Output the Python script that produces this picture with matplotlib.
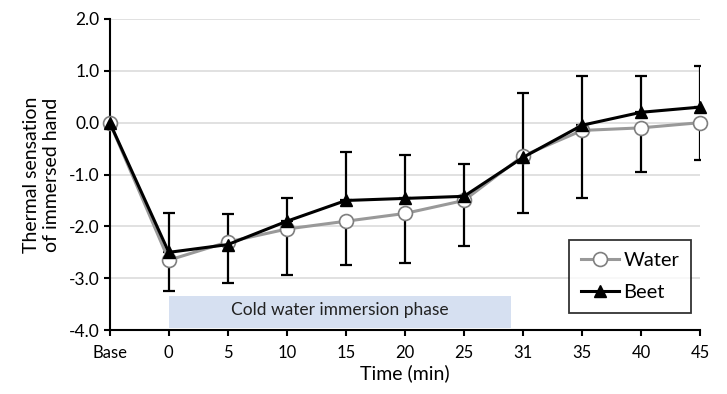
import matplotlib
matplotlib.use("Agg")

import matplotlib.pyplot as plt
import numpy as np

# ── Data ─────────────────────────────────────────────────────
time_labels = ["Base", "0", "5", "10", "15", "20", "25", "31", "35", "40", "45"]
water_mean = [0.0, -2.65, -2.30, -2.05, -1.90, -1.75, -1.50, -0.64, -0.15, -0.10, 0.0]
water_sd = [0.0, 0.59, 0.80, 0.89, 0.85, 0.96, 0.88, 1.10, 1.30, 0.86, 0.72]
beet_mean = [0.0, -2.50, -2.35, -1.90, -1.50, -1.46, -1.42, -0.67, -0.05, 0.20, 0.30]
beet_sd = [0.0, 0.76, 0.59, 0.45, 0.94, 0.83, 0.63, 1.24, 0.95, 0.70, 0.80]

phase_start = 1.0   # category index where immersion starts ("0")
phase_end = 6.8     # just before "31"
phase_label = "Cold water immersion phase"

plt.rcParams.update({
    "font.family": ["Lato", "DejaVu Sans"],
    "axes.spines.top": False,
    "axes.spines.right": False,
})

x = np.arange(len(time_labels))

fig = plt.figure(figsize=(7.27, 3.94), dpi=100)
ax = fig.add_axes([0.151, 0.162, 0.812, 0.790])

# horizontal gridlines
ax.set_axisbelow(True)
ax.yaxis.grid(True, color="#dcdcdc", linewidth=1.2)

# immersion phase band
ax.fill_between([phase_start, phase_end], -3.95, -3.35,
                color="#d6e0f1", linewidth=0, zorder=1)
ax.text((phase_start + phase_end) / 2, -3.62, phase_label,
        ha="center", va="center", fontsize=12.5, color="#222222", zorder=2)

# error bars: Water downward, Beet upward
ax.errorbar(x[1:], water_mean[1:], yerr=[water_sd[1:], [0] * (len(x) - 1)],
            fmt="none", ecolor="black", elinewidth=1.6, capsize=4,
            capthick=1.6, zorder=3)
ax.errorbar(x[1:], beet_mean[1:], yerr=[[0] * (len(x) - 1), beet_sd[1:]],
            fmt="none", ecolor="black", elinewidth=1.6, capsize=4,
            capthick=1.6, zorder=3)

ax.plot(x, water_mean, color="#999999", linewidth=2.2, marker="o",
        markersize=10, markerfacecolor="white", markeredgecolor="#7f7f7f",
        markeredgewidth=1.2, label="Water", zorder=4, clip_on=False)
ax.plot(x, beet_mean, color="black", linewidth=2.2, marker="^",
        markersize=9, markerfacecolor="black", markeredgecolor="black",
        label="Beet", zorder=5, clip_on=False)

ax.set_xlim(0, len(x) - 1)
ax.set_ylim(-4.0, 2.0)
ax.set_yticks(np.arange(-4.0, 2.01, 1.0))
ax.set_yticklabels([f"{v:.1f}" for v in np.arange(-4.0, 2.01, 1.0)])
ax.set_xticks(x)
ax.set_xticklabels(time_labels)

for side in ["left", "bottom"]:
    ax.spines[side].set_linewidth(1.5)
ax.tick_params(axis="both", direction="out", length=4, width=1.5,
               labelsize=12.5, colors="black")
ax.tick_params(axis="x", labelsize=12, pad=7)

ax.set_xlabel("Time (min)", fontsize=14, labelpad=2)
ax.set_ylabel("Thermal sensation\nof immersed hand", fontsize=14, labelpad=6)

leg = ax.legend(loc="lower right", bbox_to_anchor=(0.985, 0.055),
                fontsize=14.5, frameon=True, fancybox=False,
                handlelength=1.9, handletextpad=0.2, borderpad=0.6,
                borderaxespad=0, labelspacing=0.75)
leg.get_frame().set_edgecolor("black")
leg.get_frame().set_linewidth(1.3)

plt.savefig("out.png", dpi=100)
plt.close()
